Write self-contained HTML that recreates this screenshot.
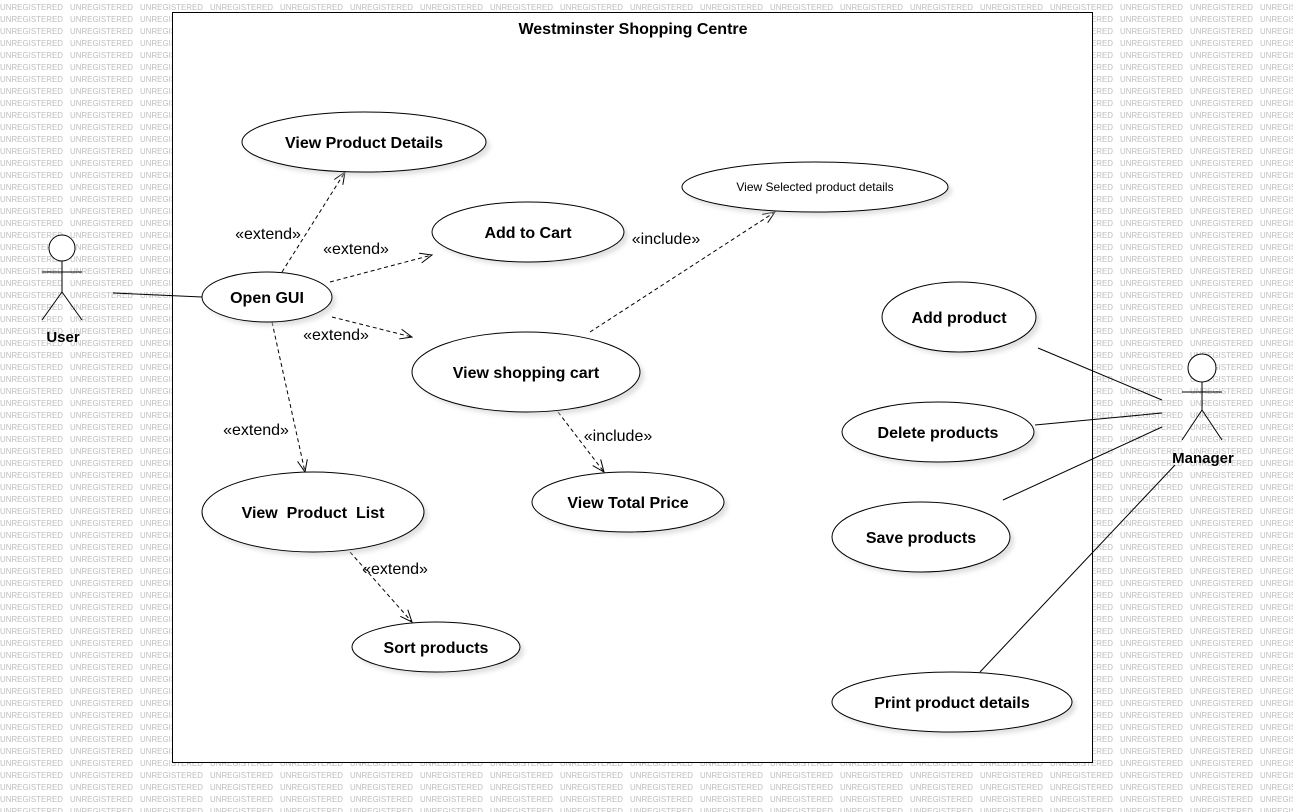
<!DOCTYPE html>
<html><head><meta charset="utf-8"><style>
html,body{margin:0;padding:0;background:#fff}
svg{display:block}
text{font-family:"Liberation Sans",Arial,sans-serif}
</style></head><body>
<svg width="1293" height="812" viewBox="0 0 1293 812" xmlns="http://www.w3.org/2000/svg">
<defs>
<pattern id="wm" x="0" y="0" width="70" height="12" patternUnits="userSpaceOnUse">
<text x="0" y="10" font-size="8.5" fill="#bdbdbd" textLength="63" lengthAdjust="spacingAndGlyphs">UNREGISTERED</text>
</pattern>
<marker id="ar" markerWidth="14" markerHeight="12" refX="13" refY="6" orient="auto" markerUnits="userSpaceOnUse">
<path d="M1,1 L13,6 L1,11" fill="none" stroke="#000" stroke-width="1"/>
</marker>
<filter id="sh" x="-10%" y="-10%" width="130%" height="140%"><feGaussianBlur stdDeviation="2"/></filter>
</defs>
<rect width="1293" height="812" fill="url(#wm)"/>
<rect x="172.5" y="12.5" width="920" height="750" fill="#fff" stroke="#000" stroke-width="1"/>
<text x="633" y="34" font-size="16" font-weight="bold" text-anchor="middle">Westminster Shopping Centre</text>

<g fill="none" stroke="#000" stroke-width="1">
<line x1="113" y1="293" x2="202" y2="297"/>
<line x1="1038" y1="348" x2="1162" y2="400"/>
<line x1="1035" y1="425" x2="1162" y2="413"/>
<line x1="1003" y1="500" x2="1162" y2="427"/>
<line x1="980" y1="672" x2="1175" y2="465"/>
<g stroke-dasharray="4,3" marker-end="url(#ar)">
<line x1="282" y1="272" x2="345" y2="172"/>
<line x1="330" y1="282" x2="432" y2="255"/>
<line x1="332" y1="317" x2="412" y2="337"/>
<line x1="272" y1="322" x2="305" y2="472"/>
<line x1="590" y1="332" x2="775" y2="212"/>
<line x1="558" y1="412" x2="604" y2="472"/>
<line x1="350" y1="552" x2="412" y2="622"/>
</g>
</g>

<g font-size="16" text-anchor="middle">
<text x="268" y="239">«extend»</text>
<text x="356" y="254">«extend»</text>
<text x="336" y="340">«extend»</text>
<text x="256" y="435">«extend»</text>
<text x="395" y="574">«extend»</text>
<text x="666" y="244">«include»</text>
<text x="618" y="441">«include»</text>
</g>

<g fill="#ccc" opacity="0.6" filter="url(#sh)">
<ellipse cx="368" cy="146" rx="122" ry="30"/>
<ellipse cx="819" cy="191" rx="133" ry="25"/>
<ellipse cx="532" cy="236" rx="96" ry="30"/>
<ellipse cx="271" cy="301" rx="65" ry="25"/>
<ellipse cx="530" cy="376" rx="114" ry="40"/>
<ellipse cx="317" cy="516" rx="111" ry="40"/>
<ellipse cx="632" cy="506" rx="96" ry="30"/>
<ellipse cx="440" cy="651" rx="84" ry="25"/>
<ellipse cx="963" cy="321" rx="77" ry="35"/>
<ellipse cx="942" cy="436" rx="96" ry="30"/>
<ellipse cx="925" cy="541" rx="89" ry="35"/>
<ellipse cx="956" cy="706" rx="120" ry="30"/>
</g>
<g fill="#fff" stroke="#000" stroke-width="1">
<ellipse cx="364" cy="142" rx="122" ry="30"/>
<ellipse cx="815" cy="187" rx="133" ry="25"/>
<ellipse cx="528" cy="232" rx="96" ry="30"/>
<ellipse cx="267" cy="297" rx="65" ry="25"/>
<ellipse cx="526" cy="372" rx="114" ry="40"/>
<ellipse cx="313" cy="512" rx="111" ry="40"/>
<ellipse cx="628" cy="502" rx="96" ry="30"/>
<ellipse cx="436" cy="647" rx="84" ry="25"/>
<ellipse cx="959" cy="317" rx="77" ry="35"/>
<ellipse cx="938" cy="432" rx="96" ry="30"/>
<ellipse cx="921" cy="537" rx="89" ry="35"/>
<ellipse cx="952" cy="702" rx="120" ry="30"/>
</g>

<g font-size="16" font-weight="bold" text-anchor="middle">
<text x="364" y="148">View Product Details</text>
<text x="528" y="238">Add to Cart</text>
<text x="267" y="303">Open GUI</text>
<text x="526" y="378">View shopping cart</text>
<text x="313" y="518" xml:space="preserve">View  Product  List</text>
<text x="628" y="508">View Total Price</text>
<text x="436" y="653">Sort products</text>
<text x="959" y="323">Add product</text>
<text x="938" y="438">Delete products</text>
<text x="921" y="543">Save products</text>
<text x="952" y="708">Print product details</text>
</g>
<text x="815" y="191" font-size="12" text-anchor="middle">View Selected product details</text>

<g fill="#fff" stroke="#000" stroke-width="1">
<circle cx="62" cy="248" r="13"/>
<line x1="62" y1="261" x2="62" y2="292"/>
<line x1="42" y1="272" x2="82" y2="272"/>
<line x1="62" y1="292" x2="42" y2="320"/>
<line x1="62" y1="292" x2="82" y2="320"/>
<circle cx="1202" cy="368" r="14"/>
<line x1="1202" y1="382" x2="1202" y2="410"/>
<line x1="1182" y1="392" x2="1222" y2="392"/>
<line x1="1202" y1="410" x2="1182" y2="440"/>
<line x1="1202" y1="410" x2="1222" y2="440"/>
</g>
<text x="63" y="342" font-size="15" font-weight="bold" text-anchor="middle">User</text>
<text x="1203" y="463" font-size="15" font-weight="bold" text-anchor="middle">Manager</text>
</svg>
</body></html>
